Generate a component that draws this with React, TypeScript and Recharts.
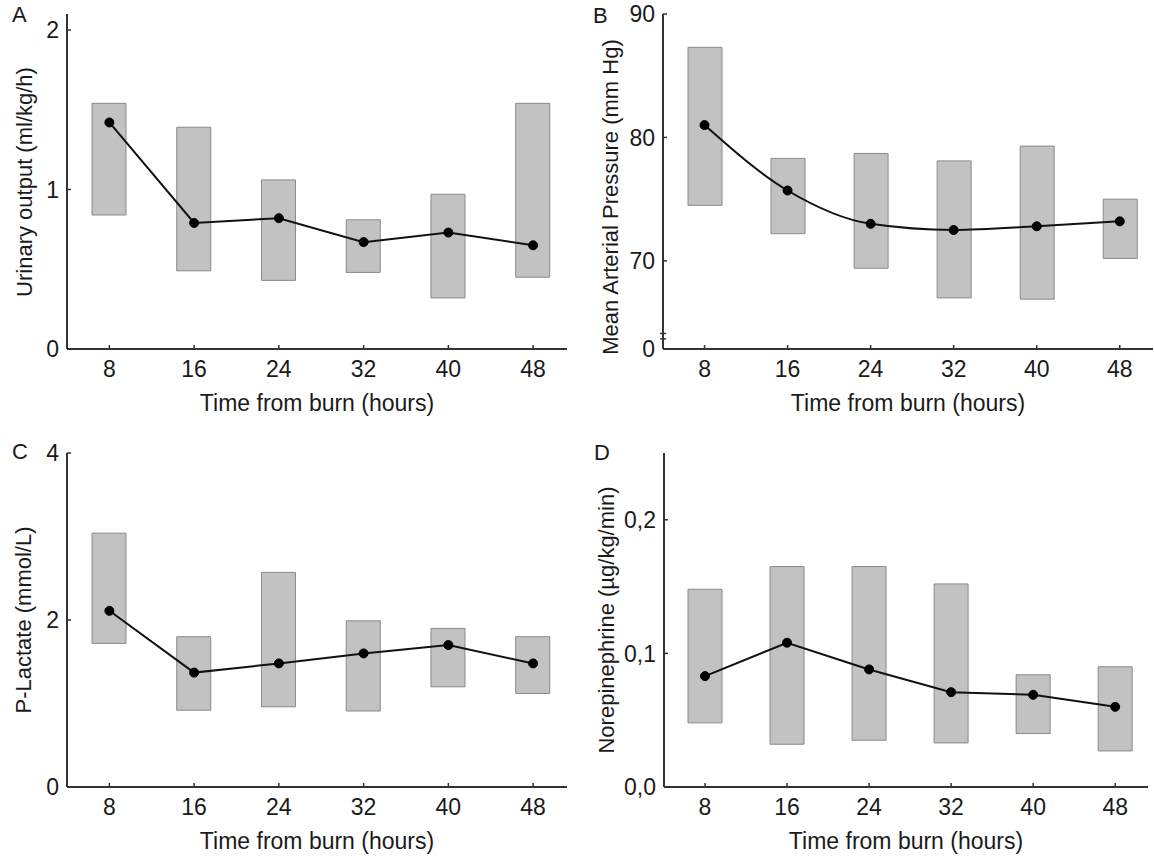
import React from 'react';
import { ComposedChart, Bar, Line, XAxis, YAxis, Label, ReferenceLine } from 'recharts';

const FONT = '"Liberation Sans", Arial, sans-serif';
const INK = '#1a1a1a';

// time points (hours after burn)
const hours = [8, 16, 24, 32, 40, 48];

// A: urinary output
const urineLow = [0.84, 0.49, 0.43, 0.48, 0.32, 0.45];
const urineHigh = [1.54, 1.39, 1.06, 0.81, 0.97, 1.54];
const urineMean = [1.42, 0.79, 0.82, 0.67, 0.73, 0.65];

// B: mean arterial pressure (axis broken below 70)
const mapLow = [74.5, 72.2, 69.4, 67.0, 66.9, 70.2];
const mapHigh = [87.3, 78.3, 78.7, 78.1, 79.3, 75.0];
const mapMean = [81.0, 75.7, 73.0, 72.5, 72.8, 73.2];
const MAP_ZERO = 62.86; // where the "0" of the broken axis sits

// C: lactate
const lactLow = [1.72, 0.92, 0.96, 0.91, 1.2, 1.12];
const lactHigh = [3.04, 1.8, 2.57, 1.99, 1.9, 1.8];
const lactMean = [2.11, 1.37, 1.48, 1.6, 1.7, 1.48];

// D: norepinephrine
const neLow = [0.048, 0.032, 0.035, 0.033, 0.04, 0.027];
const neHigh = [0.148, 0.165, 0.165, 0.152, 0.084, 0.09];
const neMean = [0.083, 0.108, 0.088, 0.071, 0.069, 0.06];

type PanelProps = {
  left: number;
  top: number;
  width: number;
  height: number;
  margin: { top: number; right: number; bottom: number; left: number };
  yWidth: number;
  yDomain: [number, number];
  yTicks: number[];
  yFormat?: (v: number) => string;
  low: number[];
  high: number[];
  mean: number[];
  curve?: 'linear' | 'monotone';
  letter: string;
  letterPos: [number, number];
  yLabel: string;
  yLabelPos: [number, number];
  broken?: boolean;
};

function Panel(p: PanelProps) {
  const data = hours.map((h, i) => ({ hour: h, range: [p.low[i], p.high[i]], mean: p.mean[i] }));
  const [lx, ly] = p.yLabelPos;

  return (
    <div style={{ position: 'absolute', left: p.left, top: p.top }}>
      <ComposedChart width={p.width} height={p.height} data={data} margin={p.margin}>
        <XAxis
          dataKey="hour"
          type="number"
          domain={[4, 51.2]}
          ticks={hours}
          allowDataOverflow
          height={30}
          tickSize={-4}
          tickMargin={16}
          axisLine={{ stroke: '#333', strokeWidth: 2 }}
          tickLine={{ stroke: '#333', strokeWidth: 1.5 }}
          tick={{ fill: INK, fontSize: 23, fontFamily: FONT }}
        >
          <Label
            value="Time from burn (hours)"
            position="bottom"
            offset={16}
            style={{ fill: INK, fontSize: 23, fontFamily: FONT }}
          />
        </XAxis>
        <YAxis
          type="number"
          domain={p.yDomain}
          ticks={p.yTicks}
          tickFormatter={p.yFormat}
          allowDataOverflow
          width={p.yWidth}
          tickSize={-4}
          tickMargin={12}
          axisLine={{ stroke: '#333', strokeWidth: 2 }}
          tickLine={{ stroke: '#333', strokeWidth: 1.5 }}
          tick={{ fill: INK, fontSize: 23, fontFamily: FONT }}
        >
          <Label
            content={() => (
              <g>
                <text x={p.letterPos[0]} y={p.letterPos[1]} fill={INK} fontSize={22} fontFamily={FONT}>
                  {p.letter}
                </text>
                <text
                  x={lx}
                  y={ly}
                  transform={`rotate(-90, ${lx}, ${ly})`}
                  textAnchor="middle"
                  dominantBaseline="central"
                  fill={INK}
                  fontSize={22}
                  fontFamily={FONT}
                >
                  {p.yLabel}
                </text>
              </g>
            )}
          />
        </YAxis>
        <Bar dataKey="range" barSize={34} fill="#c2c2c2" stroke="#8a8a8a" strokeWidth={1} isAnimationActive={false} />
        <Line
          dataKey="mean"
          type={p.curve || 'linear'}
          stroke="#111"
          strokeWidth={2}
          dot={{ r: 4.5, fill: '#000', stroke: '#000', strokeWidth: 1 }}
          isAnimationActive={false}
        />
        {p.broken && (
          <ReferenceLine
            segment={[{ x: 4, y: 63.72 }, { x: 4, y: 64.08 }]}
            stroke="#fff"
            strokeWidth={4}
            ifOverflow="visible"
          />
        )}
        {p.broken && (
          <ReferenceLine
            segment={[{ x: 3.72, y: 64.12 }, { x: 4.3, y: 64.12 }]}
            stroke="#333"
            strokeWidth={1.5}
            ifOverflow="visible"
          />
        )}
        {p.broken && (
          <ReferenceLine
            segment={[{ x: 3.72, y: 63.68 }, { x: 4.3, y: 63.68 }]}
            stroke="#333"
            strokeWidth={1.5}
            ifOverflow="visible"
          />
        )}
      </ComposedChart>
    </div>
  );
}

const comma = (v: number) => v.toFixed(1).replace('.', ',');

export default function App() {
  return (
    <div
      style={{
        position: 'absolute',
        left: 0,
        top: 0,
        width: 1154,
        height: 858,
        background: '#fff',
        fontFamily: FONT,
      }}
    >
      <Panel
        left={0}
        top={0}
        width={580}
        height={430}
        margin={{ top: 14, right: 13, bottom: 51, left: 0 }}
        yWidth={67}
        yDomain={[0, 2.1]}
        yTicks={[0, 1, 2]}
        low={urineLow}
        high={urineHigh}
        mean={urineMean}
        letter="A"
        letterPos={[12, 22]}
        yLabel="Urinary output (ml/kg/h)"
        yLabelPos={[24, 182]}
      />
      <Panel
        left={580}
        top={0}
        width={574}
        height={430}
        margin={{ top: 14, right: 1, bottom: 51, left: 0 }}
        yWidth={83}
        yDomain={[MAP_ZERO, 90]}
        yTicks={[MAP_ZERO, 70, 80, 90]}
        yFormat={(v: number) => (v < 65 ? '0' : String(v))}
        low={mapLow}
        high={mapHigh}
        mean={mapMean}
        curve="monotone"
        letter="B"
        letterPos={[13, 23]}
        yLabel="Mean Arterial Pressure (mm Hg)"
        yLabelPos={[30, 197]}
        broken
      />
      <Panel
        left={0}
        top={430}
        width={580}
        height={428}
        margin={{ top: 23, right: 13, bottom: 41, left: 0 }}
        yWidth={67}
        yDomain={[0, 4]}
        yTicks={[0, 2, 4]}
        low={lactLow}
        high={lactHigh}
        mean={lactMean}
        letter="C"
        letterPos={[12, 29]}
        yLabel="P-Lactate (mmol/L)"
        yLabelPos={[23, 190]}
      />
      <Panel
        left={580}
        top={430}
        width={574}
        height={428}
        margin={{ top: 23, right: 6, bottom: 41, left: 0 }}
        yWidth={84}
        yDomain={[0, 0.25]}
        yTicks={[0, 0.1, 0.2]}
        yFormat={comma}
        low={neLow}
        high={neHigh}
        mean={neMean}
        letter="D"
        letterPos={[14, 30]}
        yLabel="Norepinephrine (µg/kg/min)"
        yLabelPos={[26, 190]}
      />
    </div>
  );
}
